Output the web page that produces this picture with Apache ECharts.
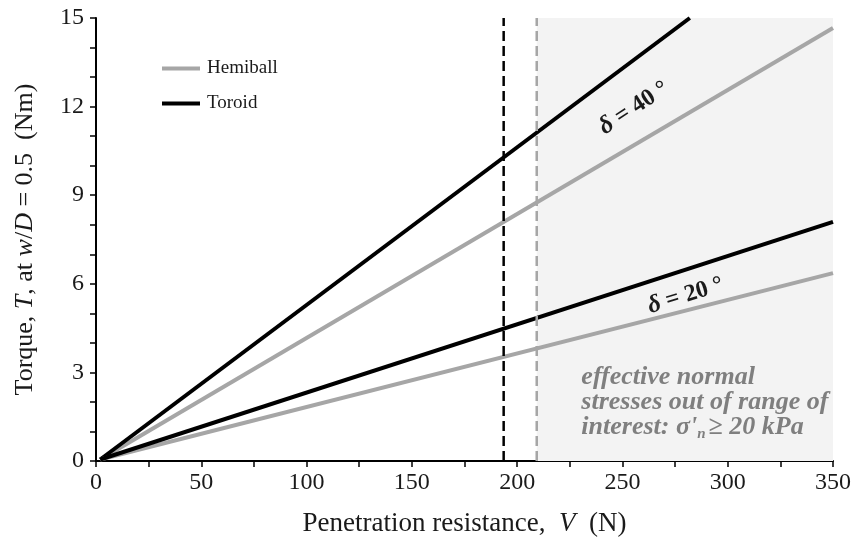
<!DOCTYPE html>
<html>
<head>
<meta charset="utf-8">
<script src="https://cdn.jsdelivr.net/npm/echarts@6/dist/echarts.min.js"></script>
<style>
  html, body { margin: 0; padding: 0; background: #fff; }
  #chart { width: 852px; height: 549px; }
</style>
</head>
<body>
<div id="chart"></div>
<script>
// Torque vs. penetration resistance for two penetrometer shapes
const xTicks = [0, 50, 100, 150, 200, 250, 300, 350];
const yTicks = [0, 3, 6, 9, 12, 15];

// [V (N), T (Nm)] end points of each straight line
const hemiball40 = [[2, 0.05], [350, 14.66]];
const toroid40   = [[2, 0.05], [282, 15.0]];
const hemiball20 = [[2, 0.05], [350, 6.36]];
const toroid20   = [[2, 0.05], [350, 8.10]];

// vertical limits (N)
const toroidLimit = 193.6;
const hemiballLimit = 209.3;

// annotation anchors [V, T]
const label40 = [255.5, 11.95];
const label20 = [280, 5.6];
const noteAnchor = [230.5, 3.25];

const serif = '"Liberation Serif", "Times New Roman", serif';
const grey = '#a6a6a6';
const ink = '#1a1a1a';

const chart = echarts.init(document.getElementById('chart'));

const option = {
  animation: false,
  textStyle: { fontFamily: serif },
  grid: { left: 96, right: 19, top: 18, bottom: 88, containLabel: false, outerBoundsMode: 'none' },
  legend: {
    data: [
      { name: 'Hemiball', icon: 'rect' },
      { name: 'Toroid', icon: 'rect' }
    ],
    orient: 'vertical',
    left: 157,
    top: 54,
    itemWidth: 38,
    itemHeight: 4,
    itemGap: 16,
    textStyle: { fontFamily: serif, fontSize: 19, color: ink, padding: [0, 0, 0, 2] }
  },
  xAxis: {
    type: 'value',
    min: xTicks[0],
    max: xTicks[xTicks.length - 1],
    interval: 50,
    name: 'Penetration resistance,  {i|V}  (N)',
    nameLocation: 'middle',
    nameGap: 49,
    nameTextStyle: {
      fontFamily: serif, fontSize: 27, color: ink,
      rich: { i: { fontFamily: serif, fontSize: 27, fontStyle: 'italic', color: ink } }
    },
    axisLine: { lineStyle: { color: '#000', width: 2 } },
    axisTick: { show: true, length: 6, lineStyle: { color: '#000', width: 1.5 } },
    minorTick: { show: true, splitNumber: 2, length: 6, lineStyle: { color: '#000', width: 1.5 } },
    splitLine: { show: false },
    axisLabel: { fontFamily: serif, fontSize: 24, color: ink, margin: 10 }
  },
  yAxis: {
    type: 'value',
    min: yTicks[0],
    max: yTicks[yTicks.length - 1],
    interval: 3,
    name: 'Torque, {i|T}, at {i|w}/{i|D} = 0.5  (Nm)',
    nameLocation: 'middle',
    nameRotate: 90,
    nameGap: 58,
    nameTextStyle: {
      fontFamily: serif, fontSize: 26, color: ink,
      rich: { i: { fontFamily: serif, fontSize: 26, fontStyle: 'italic', color: ink } }
    },
    axisLine: { show: true, lineStyle: { color: '#000', width: 2 } },
    axisTick: { show: true, length: 6, lineStyle: { color: '#000', width: 1.5 } },
    minorTick: { show: true, splitNumber: 3, length: 6, lineStyle: { color: '#000', width: 1.5 } },
    splitLine: { show: false },
    axisLabel: { fontFamily: serif, fontSize: 24, color: ink, margin: 12 }
  },
  series: [
    {
      name: 'shade',
      type: 'line',
      data: [],
      silent: true,
      markArea: {
        silent: true,
        itemStyle: { color: '#f3f3f3' },
        data: [[{ xAxis: hemiballLimit, yAxis: 0 }, { xAxis: 350, yAxis: 15 }]]
      }
    },
    {
      name: 'Hemiball', type: 'line', data: hemiball40, symbol: 'none',
      lineStyle: { color: grey, width: 4 }, itemStyle: { color: grey }
    },
    {
      name: 'Toroid', type: 'line', data: toroid40, symbol: 'none',
      lineStyle: { color: '#000', width: 4 }, itemStyle: { color: '#000' }
    },
    {
      name: 'Hemiball', type: 'line', data: hemiball20, symbol: 'none',
      lineStyle: { color: grey, width: 4 }, itemStyle: { color: grey }
    },
    {
      name: 'Toroid', type: 'line', data: toroid20, symbol: 'none',
      lineStyle: { color: '#000', width: 4 }, itemStyle: { color: '#000' }
    },
    {
      name: 'toroidLimit', type: 'line', symbol: 'none',
      data: [[toroidLimit, 0], [toroidLimit, 15]],
      lineStyle: { color: '#000', width: 2.5, type: [10, 5] }
    },
    {
      name: 'hemiballLimit', type: 'line', symbol: 'none',
      data: [[hemiballLimit, 0], [hemiballLimit, 15]],
      lineStyle: { color: grey, width: 2.5, type: [10, 5] }
    }
  ]
};

chart.setOption(option);

// text annotations placed at data coordinates
const p40 = chart.convertToPixel({ gridIndex: 0 }, label40);
const p20 = chart.convertToPixel({ gridIndex: 0 }, label20);
const pNote = chart.convertToPixel({ gridIndex: 0 }, noteAnchor);

const deltaRich = {
  d: { fontFamily: serif, fontSize: 25, fontStyle: 'italic', fontWeight: 'bold', fill: ink },
  b: { fontFamily: serif, fontSize: 24, fontWeight: 'bold', fill: ink }
};
const noteSize = 26;
const noteSub = 15;
const noteLine = 25;
const noteStyle = { fontFamily: serif, fontSize: noteSize, fontWeight: 'bold', fontStyle: 'italic', fill: '#7f7f7f' };

// measure the pieces of the last note line so the subscript sits right
const ctx = document.createElement('canvas').getContext('2d');
ctx.font = 'italic bold ' + noteSize + 'px ' + serif;
const wSigma = ctx.measureText('interest: σ\'').width;
ctx.font = 'italic bold ' + noteSub + 'px ' + serif;
const wSub = ctx.measureText('n').width;

chart.setOption({
  graphic: [
    {
      type: 'text', z: 100,
      x: p40[0], y: p40[1], rotation: 33 * Math.PI / 180,
      style: { text: '{d|δ}{b| = 40 °}', align: 'center', verticalAlign: 'middle', rich: deltaRich }
    },
    {
      type: 'text', z: 100,
      x: p20[0], y: p20[1], rotation: 17 * Math.PI / 180,
      style: { text: '{d|δ}{b| = 20 °}', align: 'center', verticalAlign: 'middle', rich: deltaRich }
    },
    {
      type: 'text', z: 100, x: pNote[0], y: pNote[1] - 1,
      style: Object.assign({ text: 'effective normal', verticalAlign: 'top' }, noteStyle)
    },
    {
      type: 'text', z: 100, x: pNote[0], y: pNote[1] - 1 + noteLine,
      style: Object.assign({ text: 'stresses out of range of', verticalAlign: 'top' }, noteStyle)
    },
    {
      type: 'text', z: 100, x: pNote[0], y: pNote[1] - 1 + 2 * noteLine,
      style: Object.assign({ text: 'interest: σ\'', verticalAlign: 'top' }, noteStyle)
    },
    {
      type: 'text', z: 100, x: pNote[0] + wSigma, y: pNote[1] - 1 + 2 * noteLine + 13,
      style: Object.assign({}, noteStyle, { text: 'n', fontSize: noteSub, verticalAlign: 'top' })
    },
    {
      type: 'text', z: 100, x: pNote[0] + wSigma + wSub + 3, y: pNote[1] - 1 + 2 * noteLine,
      style: Object.assign({ text: '≥ 20 kPa', verticalAlign: 'top' }, noteStyle)
    }
  ]
});
</script>
</body>
</html>
